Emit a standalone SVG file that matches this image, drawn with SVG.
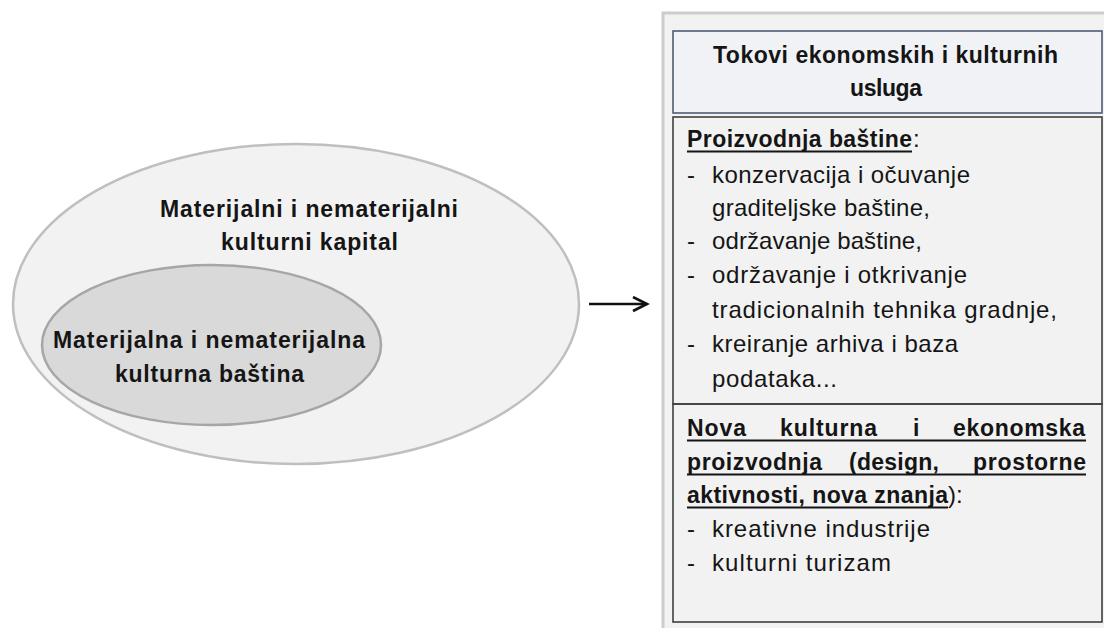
<svg xmlns="http://www.w3.org/2000/svg" width="1104" height="628" viewBox="0 0 1104 628">
<style>
  text { font-family: "Liberation Sans", Arial, sans-serif; font-size: 24px; fill: #151515; }
  .b { font-weight: bold; font-size: 23px; }
  .ul { stroke: #151515; stroke-width: 1.8; }
  .sec { fill: none; stroke: #3f3f3f; stroke-width: 1.6; }
</style>
<defs>
  <marker id="arr" markerUnits="userSpaceOnUse" markerWidth="18" markerHeight="18" refX="15" refY="8" orient="auto">
    <path d="M1,1 L15,8 L1,15" fill="none" stroke="#111" stroke-width="2.6" stroke-linejoin="miter"/>
  </marker>
</defs>
<rect x="0" y="0" width="1104" height="628" fill="#ffffff"/>

<g id="outer-capital">
  <ellipse cx="296" cy="304" rx="283" ry="160" fill="#f2f2f2" stroke="#bfbfbf" stroke-width="2.5"/>
  <text class="b" x="160" y="217" textLength="298" lengthAdjust="spacing">Materijalni  i nematerijalni</text>
  <text class="b" x="221" y="250" textLength="177" lengthAdjust="spacing">kulturni  kapital</text>
</g>

<g id="inner-heritage">
  <ellipse cx="211.5" cy="345" rx="169.5" ry="80" fill="#d9d9d9" stroke="#a6a6a6" stroke-width="2.5"/>
  <text class="b" x="53" y="348" textLength="312" lengthAdjust="spacing">Materijalna  i nematerijalna</text>
  <text class="b" x="115" y="382" textLength="189" lengthAdjust="spacing">kulturna  baština</text>
</g>

<g id="connectors">
  <line x1="589" y1="304" x2="647" y2="304" stroke="#111" stroke-width="2.3" marker-end="url(#arr)"/>
</g>

<g id="panel">
  <rect x="663" y="13" width="445" height="620" fill="#f2f2f2" stroke="#cdcdcd" stroke-width="3"/>
</g>

<g id="title-box">
  <rect x="673" y="31" width="429" height="82" fill="#f1f2f5" stroke="#4f5b73" stroke-width="1.6"/>
  <text class="b" x="713" y="63" textLength="345" lengthAdjust="spacing">Tokovi  ekonomskih  i kulturnih</text>
  <text class="b" x="850" y="96" textLength="72" lengthAdjust="spacing">usluga</text>
</g>

<g id="heritage-production">
  <rect class="sec" x="673" y="117" width="429" height="287"/>
  <text class="b" x="687" y="147" textLength="225" lengthAdjust="spacing">Proizvodnja  baštine</text>
  <line class="ul" x1="687" y1="151.5" x2="912" y2="151.5"/>
  <text x="913" y="147">:</text>
  <text x="687" y="183">-</text>
  <text x="712" y="183" textLength="258" lengthAdjust="spacing">konzervacija i očuvanje</text>
  <text x="712" y="216" textLength="218" lengthAdjust="spacing">graditeljske baštine,</text>
  <text x="687" y="249">-</text>
  <text x="712" y="249" textLength="210" lengthAdjust="spacing">održavanje baštine,</text>
  <text x="687" y="283">-</text>
  <text x="712" y="283" textLength="255" lengthAdjust="spacing">održavanje i otkrivanje</text>
  <text x="712" y="318" textLength="345" lengthAdjust="spacing">tradicionalnih tehnika gradnje,</text>
  <text x="687" y="352">-</text>
  <text x="712" y="352" textLength="246" lengthAdjust="spacing">kreiranje arhiva i baza</text>
  <text x="712" y="387" textLength="125" lengthAdjust="spacing">podataka...</text>
</g>

<g id="new-production">
  <rect class="sec" x="673" y="404" width="429" height="218"/>
  <text class="b" x="687" y="436" textLength="59" lengthAdjust="spacing">Nova</text>
  <text class="b" x="780" y="436" textLength="97" lengthAdjust="spacing">kulturna</text>
  <text class="b" x="913" y="436">i</text>
  <text class="b" x="953" y="436" textLength="132" lengthAdjust="spacing">ekonomska</text>
  <line class="ul" x1="687" y1="440.5" x2="1086" y2="440.5"/>
  <text class="b" x="687" y="470" textLength="135" lengthAdjust="spacing">proizvodnja</text>
  <text class="b" x="849" y="470" textLength="90" lengthAdjust="spacing">(design,</text>
  <text class="b" x="973" y="470" textLength="113" lengthAdjust="spacing">prostorne</text>
  <line class="ul" x1="687" y1="474.5" x2="1086" y2="474.5"/>
  <text class="b" x="687" y="503" textLength="261" lengthAdjust="spacing">aktivnosti,  nova znanja</text>
  <line class="ul" x1="687" y1="507.5" x2="948" y2="507.5"/>
  <text x="948" y="503">):</text>
  <text x="687" y="537">-</text>
  <text x="712" y="537" textLength="218" lengthAdjust="spacing">kreativne  industrije</text>
  <text x="687" y="571">-</text>
  <text x="712" y="571" textLength="179" lengthAdjust="spacing">kulturni turizam</text>
</g>
</svg>
